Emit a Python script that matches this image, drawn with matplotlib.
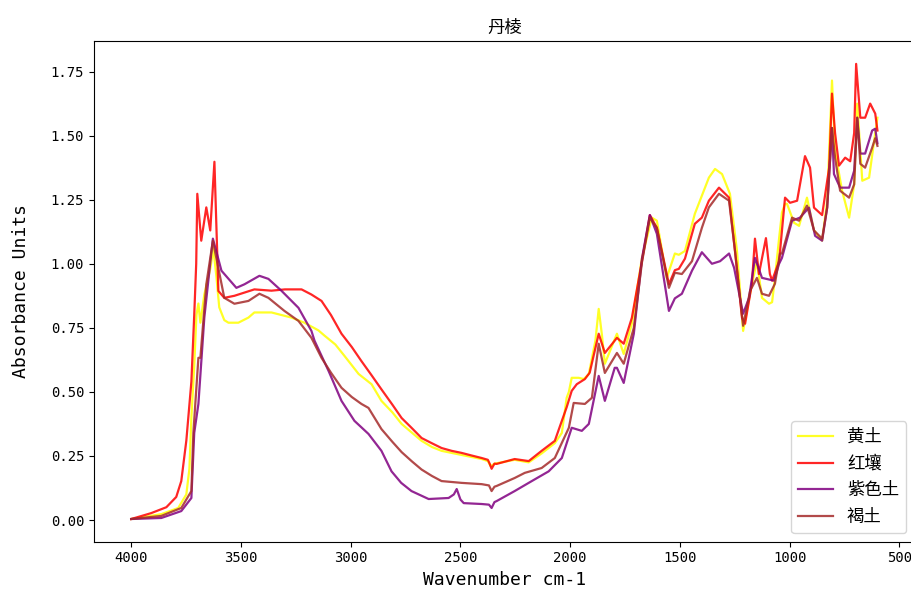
import matplotlib
matplotlib.use("Agg")
import matplotlib.pyplot as plt

plt.rcParams['font.family'] = ['DejaVu Sans Mono', 'Noto Sans CJK SC']
plt.rcParams['axes.unicode_minus'] = False

# 红外吸收光谱（丹棱样点），各土类：波数 / 吸光度
wn_huangtu = [4000, 3986, 3863, 3786, 3749, 3735, 3726, 3713, 3703, 3694, 3685, 3667,
              3640, 3626, 3612, 3599, 3576, 3557, 3512, 3466, 3439, 3361, 3270, 3211,
              3147, 3120, 3070, 3028, 2964, 2905, 2860, 2810, 2768, 2720, 2677, 2630,
              2586, 2495, 2403, 2375, 2362, 2345, 2253, 2189, 2130, 2070, 2038, 2016,
              2006, 1993, 1961, 1938, 1915, 1885, 1870, 1855, 1842, 1787, 1756, 1719,
              1673, 1628, 1605, 1560, 1523, 1505, 1477, 1432, 1368, 1340, 1308, 1272,
              1240, 1212, 1172, 1149, 1126, 1094, 1080, 1067, 1048, 1035, 1021, 1012,
              980, 957, 921, 889, 852, 829, 807, 793, 761, 729, 706, 692, 669, 638, 610, 600]
abs_huangtu = [0.004, 0.006, 0.023, 0.047, 0.10, 0.20, 0.40, 0.60, 0.80, 0.845, 0.77, 0.88,
               0.98, 1.06, 0.95, 0.83, 0.78, 0.77, 0.77, 0.79, 0.81, 0.81, 0.79, 0.77,
               0.74, 0.72, 0.685, 0.64, 0.57, 0.53, 0.465, 0.42, 0.375, 0.34, 0.309, 0.285,
               0.27, 0.254, 0.238, 0.23, 0.21, 0.22, 0.235, 0.225, 0.26, 0.30, 0.34, 0.477,
               0.50, 0.555, 0.555, 0.55, 0.57, 0.70, 0.824, 0.72, 0.61, 0.727, 0.648, 0.766,
               1.023, 1.18, 1.168, 0.945, 1.04, 1.035, 1.05, 1.195, 1.336, 1.37, 1.35, 1.273,
               1.05, 0.738, 0.92, 1.01, 0.867, 0.844, 0.85, 0.945, 1.10, 1.20, 1.234, 1.234,
               1.16, 1.148, 1.258, 1.13, 1.09, 1.246, 1.715, 1.44, 1.285, 1.18, 1.31, 1.625,
               1.324, 1.336, 1.51, 1.57]

wn_hongrang = [4000, 3909, 3840, 3795, 3772, 3749, 3726, 3713, 3704, 3699, 3681, 3658,
               3640, 3621, 3603, 3576, 3530, 3439, 3361, 3300, 3252, 3224, 3179, 3133,
               3090, 3042, 2995, 2951, 2905, 2860, 2810, 2768, 2723, 2677, 2631, 2586,
               2540, 2495, 2450, 2403, 2375, 2367, 2358, 2345, 2335, 2253, 2189, 2130,
               2070, 2038, 2016, 1993, 1970, 1933, 1911, 1870, 1842, 1797, 1787, 1756,
               1719, 1673, 1637, 1605, 1550, 1523, 1505, 1477, 1432, 1400, 1368, 1322,
               1276, 1249, 1217, 1203, 1172, 1158, 1140, 1108, 1090, 1080, 1048, 1021,
               998, 966, 930, 907, 889, 852, 820, 807, 793, 775, 747, 724, 706, 697, 678,
               656, 633, 610, 600]
abs_hongrang = [0.004, 0.027, 0.05, 0.09, 0.152, 0.31, 0.54, 0.80, 1.00, 1.273, 1.09, 1.22,
                1.13, 1.398, 0.894, 0.867, 0.875, 0.90, 0.895, 0.90, 0.90, 0.90, 0.88, 0.855,
                0.80, 0.727, 0.675, 0.62, 0.565, 0.51, 0.45, 0.398, 0.36, 0.32, 0.30, 0.281,
                0.27, 0.262, 0.252, 0.242, 0.235, 0.22, 0.20, 0.22, 0.219, 0.238, 0.23, 0.27,
                0.309, 0.387, 0.44, 0.504, 0.53, 0.55, 0.575, 0.727, 0.652, 0.70, 0.711, 0.688,
                0.789, 1.01, 1.19, 1.14, 0.92, 0.975, 0.98, 1.02, 1.156, 1.18, 1.246, 1.297,
                1.258, 1.05, 0.789, 0.766, 0.922, 1.098, 0.96, 1.10, 0.96, 0.934, 1.01, 1.258,
                1.238, 1.246, 1.42, 1.375, 1.219, 1.19, 1.375, 1.664, 1.51, 1.383, 1.414, 1.40,
                1.51, 1.78, 1.57, 1.57, 1.625, 1.586, 1.52]

wn_zise = [4000, 3863, 3772, 3726, 3713, 3694, 3667, 3628, 3589, 3521, 3484, 3416,
           3375, 3316, 3238, 3179, 3165, 3101, 3042, 2983, 2919, 2860, 2814, 2770,
           2723, 2645, 2554, 2530, 2517, 2500, 2485, 2403, 2370, 2358, 2345, 2335,
           2253, 2175, 2098, 2038, 1993, 1947, 1915, 1870, 1842, 1797, 1787, 1756,
           1710, 1673, 1637, 1605, 1550, 1523, 1491, 1445, 1400, 1354, 1317, 1276,
           1253, 1212, 1185, 1158, 1126, 1071, 1048, 1035, 989, 953, 912, 884, 852,
           829, 807, 798, 770, 729, 706, 692, 678, 656, 624, 610, 600]
abs_zise = [0.004, 0.008, 0.035, 0.086, 0.34, 0.453, 0.79, 1.098, 0.973, 0.906, 0.92, 0.953,
            0.941, 0.895, 0.828, 0.738, 0.70, 0.582, 0.465, 0.387, 0.336, 0.27, 0.19, 0.145,
            0.113, 0.082, 0.086, 0.10, 0.121, 0.08, 0.066, 0.0625, 0.06, 0.047, 0.07, 0.074,
            0.113, 0.152, 0.19, 0.242, 0.36, 0.348, 0.375, 0.5625, 0.465, 0.594, 0.594, 0.535,
            0.727, 1.02, 1.19, 1.117, 0.816, 0.865, 0.883, 0.973, 1.045, 1.0, 1.01, 1.04,
            0.984, 0.805, 0.867, 1.023, 0.945, 0.934, 1.0, 1.023, 1.168, 1.18, 1.219, 1.109,
            1.09, 1.219, 1.53, 1.35, 1.297, 1.297, 1.363, 1.57, 1.43, 1.43, 1.52, 1.527, 1.47]

wn_hetu = [4000, 3863, 3772, 3726, 3717, 3694, 3685, 3658, 3628, 3576, 3530, 3466,
           3416, 3375, 3302, 3238, 3179, 3133, 3090, 3042, 2995, 2951, 2919, 2860,
           2810, 2768, 2720, 2677, 2630, 2586, 2495, 2403, 2370, 2358, 2345, 2335,
           2253, 2207, 2130, 2070, 2006, 1984, 1933, 1901, 1870, 1842, 1787, 1756,
           1710, 1673, 1637, 1605, 1550, 1523, 1491, 1445, 1400, 1368, 1322, 1276,
           1249, 1212, 1180, 1149, 1126, 1094, 1067, 1044, 1035, 989, 957, 921, 889,
           852, 829, 807, 793, 770, 729, 706, 692, 678, 656, 624, 610, 600]
abs_hetu = [0.004, 0.016, 0.047, 0.113, 0.34, 0.633, 0.633, 0.92, 1.09, 0.867, 0.844, 0.855,
            0.883, 0.867, 0.816, 0.777, 0.711, 0.633, 0.575, 0.516, 0.48, 0.453, 0.4375, 0.355,
            0.305, 0.265, 0.228, 0.197, 0.172, 0.152, 0.145, 0.14, 0.135, 0.113, 0.13, 0.133,
            0.164, 0.184, 0.203, 0.242, 0.36, 0.457, 0.453, 0.477, 0.688, 0.574, 0.652, 0.61,
            0.75, 1.005, 1.18, 1.14, 0.906, 0.965, 0.96, 1.01, 1.14, 1.22, 1.273, 1.246,
            1.05, 0.758, 0.895, 0.945, 0.883, 0.875, 0.922, 1.04, 1.04, 1.18, 1.168, 1.227,
            1.13, 1.098, 1.219, 1.53, 1.414, 1.285, 1.258, 1.31, 1.57, 1.39, 1.375, 1.453,
            1.49, 1.46]

labels = ["黄土", "红壤", "紫色土", "褐土"]
colors = ["yellow", "red", "purple", "brown"]

fig = plt.figure(figsize=(9.12, 5.96), dpi=100)
ax = fig.add_axes([0.103, 0.091, 0.900, 0.840])

series = [(wn_huangtu, abs_huangtu), (wn_hongrang, abs_hongrang),
          (wn_zise, abs_zise), (wn_hetu, abs_hetu)]
for (wn, ab), lab, col in zip(series, labels, colors):
    ax.plot(wn, ab, color=col, label=lab, linewidth=1.6, alpha=0.85)

ax.invert_xaxis()
ax.set_title("丹棱", fontsize=12.5)
ax.set_xlabel("Wavenumber cm-1", fontsize=13)
ax.set_ylabel("Absorbance Units", fontsize=13)
ax.yaxis.set_label_coords(-0.078, 0.5)
ax.tick_params(labelsize=10)
ax.legend(loc="lower right", prop={'family': ['Noto Sans CJK SC'], 'size': 12.5})

fig.savefig("out.png", dpi=100)
